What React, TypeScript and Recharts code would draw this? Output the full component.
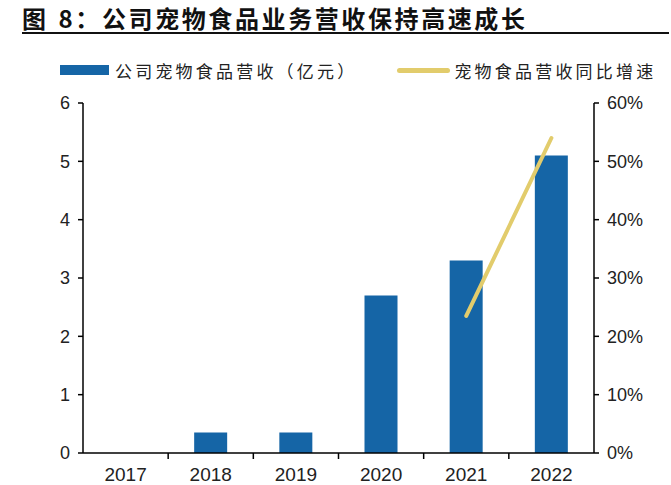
import React from "react";
import { ComposedChart, Bar, Line, XAxis, YAxis } from "recharts";

const years = ["2017", "2018", "2019", "2020", "2021", "2022"];
const revenue = [0, 0.35, 0.35, 2.7, 3.3, 5.1];
const growth: (number | null)[] = [null, null, null, null, 23.5, 54];
const leftTicks = [0, 1, 2, 3, 4, 5, 6];
const rightTicks = [0, 10, 20, 30, 40, 50, 60];

const data = years.map((y, i) => ({ year: y, revenue: revenue[i], growth: growth[i] }));

const BLUE = "#1565a6";
const GOLD = "#e2cc6c";
const FONT = "'Liberation Sans', Arial, sans-serif";
const CJK = "'Noto Sans CJK SC', sans-serif";

const XTick = (props: any) => {
  const { x, y, payload, index } = props;
  const half = 85.17 / 2;
  return (
    <g>
      {index > 0 && (
        <line x1={x - half} x2={x - half} y1={y - 8} y2={y - 2} stroke="#000" strokeWidth={1.5} />
      )}
      <text x={x} y={y + 20} textAnchor="middle" fontSize={19} fill="#222" fontFamily={FONT}>
        {payload.value}
      </text>
    </g>
  );
};

export default function App() {
  return (
    <div style={{ position: "absolute", left: 0, top: 0, width: 671, height: 485, background: "#fff", overflow: "hidden" }}>
      <div
        style={{
          position: "absolute",
          left: 22,
          top: 0,
          fontFamily: CJK,
          fontWeight: 700,
          fontSize: 24,
          color: "#111",
          whiteSpace: "nowrap",
          letterSpacing: 2.6,
        }}
      >
        <span style={{ marginRight: 10 }}>图</span>8：公司宠物食品业务营收保持高速成长
      </div>
      <div style={{ position: "absolute", left: 22, top: 32, width: 647, height: 2, background: "#111" }} />
      <div
        style={{
          position: "absolute",
          top: 57,
          left: 60,
          display: "flex",
          alignItems: "center",
          fontFamily: CJK,
          fontSize: 17,
          letterSpacing: 3.2,
          color: "#222",
          whiteSpace: "nowrap",
          height: 26,
        }}
      >
        <span style={{ display: "inline-block", width: 49, height: 10, background: BLUE, marginRight: 6 }} />
        <span>公司宠物食品营收（亿元）</span>
        <span
          style={{
            display: "inline-block",
            width: 53,
            height: 5,
            borderRadius: 3,
            background: GOLD,
            marginLeft: 40,
            marginRight: 4,
          }}
        />
        <span>宠物食品营收同比增速</span>
      </div>
      <div style={{ position: "absolute", left: 0, top: 0 }}>
        <ComposedChart
          width={671}
          height={485}
          data={data}
          margin={{ top: 103, left: 23, right: 17, bottom: 2 }}
          barCategoryGap="30%"
        >
          <XAxis
            dataKey="year"
            height={30}
            axisLine={{ stroke: "#000", strokeWidth: 1.5 }}
            tickLine={false}
            tick={<XTick />}
            interval={0}
          />
          <YAxis
            yAxisId="left"
            width={60}
            domain={[0, 6]}
            ticks={leftTicks}
            axisLine={{ stroke: "#000", strokeWidth: 1.5 }}
            tickLine={{ stroke: "#000", strokeWidth: 1.5 }}
            tickSize={5}
            tick={{ fontSize: 18, fill: "#222", fontFamily: FONT }}
            tickMargin={8}
          />
          <YAxis
            yAxisId="right"
            orientation="right"
            width={60}
            domain={[0, 60]}
            ticks={rightTicks}
            tickFormatter={(v: number) => `${v}%`}
            axisLine={{ stroke: "#000", strokeWidth: 1.5 }}
            tickLine={{ stroke: "#000", strokeWidth: 1.5 }}
            tickSize={5}
            tick={{ fontSize: 18, fill: "#222", fontFamily: FONT, textAnchor: "start" }}
            tickMargin={8}
          />
          <Bar yAxisId="left" dataKey="revenue" fill={BLUE} barSize={33} isAnimationActive={false} />
          <Line
            yAxisId="right"
            dataKey="growth"
            stroke={GOLD}
            strokeWidth={4}
            strokeLinecap="round"
            dot={false}
            activeDot={false}
            connectNulls={false}
            isAnimationActive={false}
          />
        </ComposedChart>
      </div>
    </div>
  );
}
